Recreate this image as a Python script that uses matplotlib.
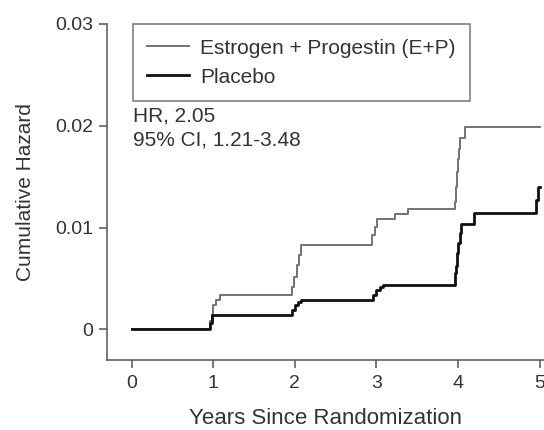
import matplotlib
matplotlib.use("Agg")
import matplotlib.pyplot as plt

plt.rcParams['font.family'] = ['Liberation Sans', 'DejaVu Sans']

# Data
t_ep = [0, 0.96, 0.985, 1.0, 1.03, 1.08, 1.965, 1.99, 2.02, 2.05, 2.08,
        2.95, 2.98, 3.01, 3.23, 3.39, 3.965, 3.975, 3.99, 4.0, 4.01, 4.02, 4.08, 5.0]
v_ep = [0, 0.0008, 0.0014, 0.0024, 0.0029, 0.0034, 0.0042, 0.0052, 0.0063, 0.0073, 0.0083,
        0.0093, 0.0101, 0.0108, 0.0113, 0.0118, 0.0125, 0.0140, 0.0155, 0.0167, 0.0177, 0.0188, 0.0199, 0.0199]

t_pl = [0, 0.96, 0.985, 1.97, 2.0, 2.04, 2.08, 2.96, 3.0, 3.04, 3.08,
        3.965, 3.975, 3.99, 4.0, 4.02, 4.04, 4.19, 4.96, 4.98, 5.01]
v_pl = [0, 0.0006, 0.0014, 0.0019, 0.0024, 0.0027, 0.0029, 0.0034, 0.0039, 0.0042, 0.0044,
        0.0055, 0.0062, 0.0075, 0.0085, 0.0095, 0.0104, 0.0114, 0.0127, 0.0140, 0.0140]

series_labels = ["Estrogen + Progestin (E+P)", "Placebo"]
x_ticks = [0, 1, 2, 3, 4, 5]
y_ticks = [0, 0.01, 0.02, 0.03]
y_tick_labels = ["0", "0.01", "0.02", "0.03"]
annotation = "HR, 2.05\n95% CI, 1.21-3.48"

W, H = 544, 430
fig = plt.figure(figsize=(W / 100, H / 100), dpi=100)
ax = fig.add_axes([106.7 / W, 70 / H, (W - 106.7) / W, (406 - 70) / H])

txt_color = '#333333'
spine_color = '#555555'

ax.plot(t_ep, v_ep, drawstyle='steps-post', color='#727272', lw=1.4, label=series_labels[0])
ax.plot(t_pl, v_pl, drawstyle='steps-post', color='#111111', lw=2.0, label=series_labels[1])

ax.set_xlim(-0.306, 5.053)
ax.set_ylim(-0.003, 0.030)
ax.set_xticks(x_ticks)
ax.set_yticks(y_ticks)
ax.set_yticklabels(y_tick_labels)

for s in ['top', 'right']:
    ax.spines[s].set_visible(False)
for s in ['left', 'bottom']:
    ax.spines[s].set_color(spine_color)
    ax.spines[s].set_linewidth(1.1)

ax.tick_params(axis='both', colors=spine_color, labelcolor=txt_color, length=5.5, width=1.1,
               labelsize=14)
ax.tick_params(axis='x', pad=5)
ax.tick_params(axis='y', pad=4)

ax.set_xlabel("Years Since Randomization", fontsize=16, color=txt_color, labelpad=12)
ax.set_ylabel("Cumulative Hazard", fontsize=15, color=txt_color, labelpad=15)

leg = ax.legend(loc='upper left', bbox_to_anchor=(132.7 / W, (H - 24) / H),
                bbox_transform=fig.transFigure, frameon=True, fancybox=False,
                fontsize=15, handlelength=2.0, handletextpad=0.53, borderpad=0.7,
                labelspacing=0.48, borderaxespad=0)
leg.get_frame().set_edgecolor(spine_color)
leg.get_frame().set_linewidth(1.1)
for t in leg.get_texts():
    t.set_color(txt_color)

fig.text(132.7 / W, (H - 107) / H, annotation, fontsize=15, color=txt_color,
         ha='left', va='top', linespacing=1.3)

fig.savefig("out.png", dpi=100)
